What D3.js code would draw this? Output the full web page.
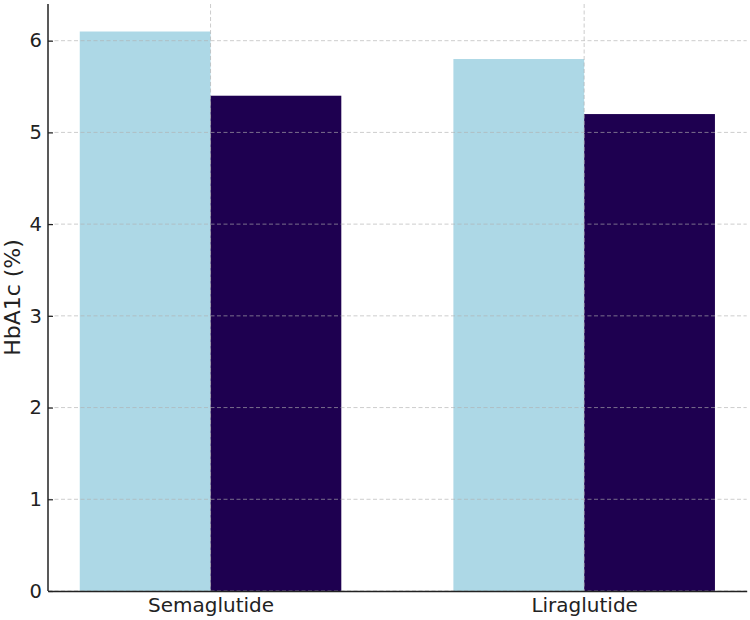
<!DOCTYPE html>
<html><head><meta charset="utf-8">
<script src="https://cdn.jsdelivr.net/npm/d3@7"></script>
<style>body{margin:0;background:#fff}svg{display:block}</style>
</head><body>
<script>
const categories = ["Semaglutide", "Liraglutide"];
const seriesNames = ["Baseline", "Follow-up"];
const baseline = [6.1, 5.8];
const followup = [5.4, 5.2];
const yTicks = [0, 1, 2, 3, 4, 5, 6];
const colors = ["#ADD8E6", "#1E0050"];

const W = 750, H = 620;
const m = {left: 48, right: 3.3, top: 4, bottom: 29};
const svg = d3.select("body").append("svg").attr("width", W).attr("height", H);
const iw = W - m.left - m.right, ih = H - m.top - m.bottom;
const g = svg.append("g").attr("transform", `translate(${m.left},${m.top})`);

const barW = 0.35;
const x = d3.scaleLinear().domain([-0.435, 1.435]).range([0, iw]);
const y = d3.scaleLinear().domain([0, 6.4]).range([ih, 0]);
const font = "DejaVu Sans, sans-serif";

const series = [baseline, followup];
series.forEach((vals, si) => {
  g.selectAll(null).data(vals).enter().append("rect")
    .attr("x", (d, i) => x(i + (si === 0 ? -barW : 0)))
    .attr("width", (d, i) => x(i + barW) - x(i))
    .attr("y", d => y(d))
    .attr("height", d => y(0) - y(d))
    .attr("fill", colors[si]);
});

// grid on top
const grid = g.append("g");
grid.selectAll(null).data(yTicks).enter().append("line")
  .attr("x1", 0).attr("x2", iw).attr("y1", d => y(d)).attr("y2", d => y(d))
  .attr("stroke", "#b0b0b0").attr("stroke-opacity", 0.7).attr("stroke-dasharray", "4,2.5").attr("stroke-width", 0.9);
grid.selectAll(null).data(categories).enter().append("line")
  .attr("x1", (d, i) => x(i)).attr("x2", (d, i) => x(i)).attr("y1", 0).attr("y2", ih)
  .attr("stroke", "#b0b0b0").attr("stroke-opacity", 0.7).attr("stroke-dasharray", "4,2.5").attr("stroke-width", 0.9);

// y axis
const ya = g.append("g").call(d3.axisLeft(y).tickValues(yTicks).tickSize(-5).tickPadding(6).tickFormat(d3.format("d")));
ya.select(".domain").attr("stroke", "#222").attr("stroke-width", 1.5).attr("d", `M0,${ih}V0`);
ya.selectAll(".tick line").attr("stroke", "#222").attr("stroke-width", 1.2);
ya.selectAll("text").attr("font-family", font).attr("font-size", 19.5).attr("fill", "#222");

// x axis
const xa = g.append("g").attr("transform", `translate(0,${ih})`)
  .call(d3.axisBottom(x).tickValues([0, 1]).tickSize(0).tickPadding(7).tickFormat(i => categories[i]));
xa.select(".domain").attr("stroke", "#222").attr("stroke-width", 1.5);
xa.selectAll("text").attr("font-family", font).attr("font-size", 20).attr("fill", "#222");

svg.append("text").attr("transform", `translate(20,${m.top + ih / 2}) rotate(-90)`)
  .attr("text-anchor", "middle").attr("font-family", font).attr("font-size", 22).attr("fill", "#222")
  .text("HbA1c (%)");
</script>
</body></html>
